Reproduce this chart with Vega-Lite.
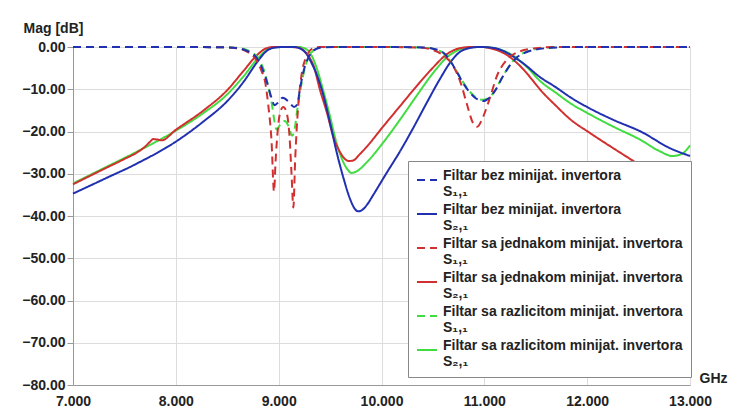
{
  "$schema": "https://vega.github.io/schema/vega-lite/v6.json",
  "width": 617,
  "height": 338,
  "autosize": {"type": "none"},
  "padding": {"left": 73, "top": 47, "right": 43, "bottom": 25},
  "background": "white",
  "config": {"view": {"stroke": null}, "font": "Liberation Sans"},
  "data": {"values": [
    {"s":"g21","f":7.0,"v":-32.3},{"s":"g21","f":7.29,"v":-28.8},{"s":"g21","f":7.62,"v":-24.8},{"s":"g21","f":8.0,"v":-19.8},{"s":"g21","f":8.27,"v":-15.6},{"s":"g21","f":8.5,"v":-11.2},{"s":"g21","f":8.66,"v":-6.9},{"s":"g21","f":8.79,"v":-2.9},{"s":"g21","f":8.88,"v":-0.8},{"s":"g21","f":8.95,"v":-0.1},{"s":"g21","f":9.05,"v":0},{"s":"g21","f":9.2,"v":0},{"s":"g21","f":9.25,"v":-0.3},{"s":"g21","f":9.3,"v":-1.2},{"s":"g21","f":9.37,"v":-5.0},{"s":"g21","f":9.43,"v":-10.0},{"s":"g21","f":9.5,"v":-16.5},{"s":"g21","f":9.56,"v":-22.5},{"s":"g21","f":9.63,"v":-27.3},{"s":"g21","f":9.67,"v":-29.0},{"s":"g21","f":9.71,"v":-29.8},{"s":"g21","f":9.76,"v":-29.4},{"s":"g21","f":9.86,"v":-27.2},{"s":"g21","f":10.02,"v":-22.5},{"s":"g21","f":10.18,"v":-17.2},{"s":"g21","f":10.34,"v":-11.6},{"s":"g21","f":10.5,"v":-6.2},{"s":"g21","f":10.63,"v":-2.6},{"s":"g21","f":10.76,"v":-0.6},{"s":"g21","f":10.88,"v":-0.05},{"s":"g21","f":10.98,"v":0},{"s":"g21","f":11.08,"v":-0.2},{"s":"g21","f":11.2,"v":-1.0},{"s":"g21","f":11.3,"v":-2.4},{"s":"g21","f":11.42,"v":-4.9},{"s":"g21","f":11.54,"v":-8.0},{"s":"g21","f":11.7,"v":-10.9},{"s":"g21","f":11.83,"v":-13.2},{"s":"g21","f":12.03,"v":-16.0},{"s":"g21","f":12.25,"v":-18.8},{"s":"g21","f":12.52,"v":-22.0},{"s":"g21","f":12.7,"v":-24.6},{"s":"g21","f":12.83,"v":-25.8},{"s":"g21","f":12.92,"v":-25.3},{"s":"g21","f":13.0,"v":-23.3},
    {"s":"r21","f":7.0,"v":-32.5},{"s":"r21","f":7.29,"v":-29.0},{"s":"r21","f":7.5,"v":-26.5},{"s":"r21","f":7.62,"v":-25.0},{"s":"r21","f":7.7,"v":-23.6},{"s":"r21","f":7.75,"v":-22.4},{"s":"r21","f":7.78,"v":-21.8},{"s":"r21","f":7.82,"v":-21.9},{"s":"r21","f":7.86,"v":-22.1},{"s":"r21","f":8.0,"v":-19.6},{"s":"r21","f":8.27,"v":-15.0},{"s":"r21","f":8.5,"v":-10.2},{"s":"r21","f":8.66,"v":-5.6},{"s":"r21","f":8.79,"v":-1.9},{"s":"r21","f":8.88,"v":-0.3},{"s":"r21","f":8.95,"v":0},{"s":"r21","f":9.1,"v":0},{"s":"r21","f":9.2,"v":-0.2},{"s":"r21","f":9.25,"v":-1.0},{"s":"r21","f":9.3,"v":-2.5},{"s":"r21","f":9.34,"v":-4.5},{"s":"r21","f":9.4,"v":-10.0},{"s":"r21","f":9.47,"v":-15.6},{"s":"r21","f":9.53,"v":-21.1},{"s":"r21","f":9.6,"v":-25.0},{"s":"r21","f":9.64,"v":-26.4},{"s":"r21","f":9.68,"v":-27.0},{"s":"r21","f":9.73,"v":-26.8},{"s":"r21","f":9.78,"v":-25.6},{"s":"r21","f":9.86,"v":-23.5},{"s":"r21","f":10.02,"v":-18.7},{"s":"r21","f":10.18,"v":-14.0},{"s":"r21","f":10.34,"v":-9.3},{"s":"r21","f":10.5,"v":-4.9},{"s":"r21","f":10.63,"v":-1.8},{"s":"r21","f":10.76,"v":-0.3},{"s":"r21","f":10.88,"v":0},{"s":"r21","f":10.98,"v":0},{"s":"r21","f":11.06,"v":-0.3},{"s":"r21","f":11.14,"v":-0.9},{"s":"r21","f":11.22,"v":-1.9},{"s":"r21","f":11.3,"v":-3.4},{"s":"r21","f":11.38,"v":-5.3},{"s":"r21","f":11.46,"v":-7.6},{"s":"r21","f":11.54,"v":-10.0},{"s":"r21","f":11.7,"v":-14.0},{"s":"r21","f":11.83,"v":-17.0},{"s":"r21","f":12.03,"v":-20.4},{"s":"r21","f":12.25,"v":-23.9},{"s":"r21","f":12.45,"v":-27.0},{"s":"r21","f":12.7,"v":-31.0},{"s":"r21","f":13.0,"v":-35.5},
    {"s":"b21","f":7.0,"v":-34.7},{"s":"b21","f":7.29,"v":-31.4},{"s":"b21","f":7.62,"v":-27.6},{"s":"b21","f":8.0,"v":-22.4},{"s":"b21","f":8.27,"v":-17.6},{"s":"b21","f":8.5,"v":-12.8},{"s":"b21","f":8.66,"v":-8.2},{"s":"b21","f":8.79,"v":-3.6},{"s":"b21","f":8.88,"v":-1.0},{"s":"b21","f":8.95,"v":-0.2},{"s":"b21","f":9.05,"v":0},{"s":"b21","f":9.15,"v":0},{"s":"b21","f":9.22,"v":-0.5},{"s":"b21","f":9.27,"v":-1.6},{"s":"b21","f":9.32,"v":-3.8},{"s":"b21","f":9.37,"v":-6.5},{"s":"b21","f":9.43,"v":-11.0},{"s":"b21","f":9.5,"v":-18.0},{"s":"b21","f":9.56,"v":-24.5},{"s":"b21","f":9.63,"v":-31.0},{"s":"b21","f":9.695,"v":-36.0},{"s":"b21","f":9.74,"v":-38.3},{"s":"b21","f":9.775,"v":-38.9},{"s":"b21","f":9.81,"v":-38.6},{"s":"b21","f":9.86,"v":-37.3},{"s":"b21","f":9.92,"v":-35.0},{"s":"b21","f":10.05,"v":-29.8},{"s":"b21","f":10.18,"v":-24.7},{"s":"b21","f":10.31,"v":-19.1},{"s":"b21","f":10.44,"v":-13.2},{"s":"b21","f":10.57,"v":-7.5},{"s":"b21","f":10.67,"v":-3.6},{"s":"b21","f":10.76,"v":-1.2},{"s":"b21","f":10.85,"v":-0.3},{"s":"b21","f":10.95,"v":0},{"s":"b21","f":11.05,"v":-0.1},{"s":"b21","f":11.15,"v":-0.6},{"s":"b21","f":11.25,"v":-1.8},{"s":"b21","f":11.38,"v":-3.9},{"s":"b21","f":11.54,"v":-7.1},{"s":"b21","f":11.7,"v":-9.6},{"s":"b21","f":11.83,"v":-11.8},{"s":"b21","f":12.03,"v":-14.6},{"s":"b21","f":12.25,"v":-17.2},{"s":"b21","f":12.52,"v":-20.0},{"s":"b21","f":12.81,"v":-24.0},{"s":"b21","f":13.0,"v":-25.8},
    {"s":"g11","f":7.0,"v":0},{"s":"g11","f":8.0,"v":0},{"s":"g11","f":8.5,"v":-0.1},{"s":"g11","f":8.6,"v":-0.2},{"s":"g11","f":8.7,"v":-0.8},{"s":"g11","f":8.8,"v":-2.7},{"s":"g11","f":8.87,"v":-6.5},{"s":"g11","f":8.93,"v":-13.0},{"s":"g11","f":8.98,"v":-19.5},{"s":"g11","f":9.02,"v":-18.2},{"s":"g11","f":9.06,"v":-17.5},{"s":"g11","f":9.1,"v":-19.0},{"s":"g11","f":9.13,"v":-21.0},{"s":"g11","f":9.155,"v":-19.5},{"s":"g11","f":9.18,"v":-15.0},{"s":"g11","f":9.22,"v":-9.0},{"s":"g11","f":9.26,"v":-4.5},{"s":"g11","f":9.3,"v":-2.0},{"s":"g11","f":9.36,"v":-0.5},{"s":"g11","f":9.45,"v":0},{"s":"g11","f":10.0,"v":0},{"s":"g11","f":10.4,"v":-0.1},{"s":"g11","f":10.5,"v":-0.4},{"s":"g11","f":10.6,"v":-1.4},{"s":"g11","f":10.67,"v":-3.4},{"s":"g11","f":10.73,"v":-5.7},{"s":"g11","f":10.79,"v":-8.2},{"s":"g11","f":10.85,"v":-10.3},{"s":"g11","f":10.91,"v":-11.8},{"s":"g11","f":10.98,"v":-12.5},{"s":"g11","f":11.05,"v":-11.9},{"s":"g11","f":11.1,"v":-10.4},{"s":"g11","f":11.18,"v":-6.9},{"s":"g11","f":11.25,"v":-4.2},{"s":"g11","f":11.31,"v":-2.5},{"s":"g11","f":11.4,"v":-1.2},{"s":"g11","f":11.5,"v":-0.5},{"s":"g11","f":11.65,"v":-0.1},{"s":"g11","f":11.8,"v":0},{"s":"g11","f":12.5,"v":0},{"s":"g11","f":13.0,"v":0},
    {"s":"r11","f":7.0,"v":0},{"s":"r11","f":8.0,"v":0},{"s":"r11","f":8.5,"v":-0.1},{"s":"r11","f":8.6,"v":-0.3},{"s":"r11","f":8.7,"v":-1.2},{"s":"r11","f":8.78,"v":-3.0},{"s":"r11","f":8.83,"v":-5.5},{"s":"r11","f":8.87,"v":-8.5},{"s":"r11","f":8.9,"v":-14.0},{"s":"r11","f":8.93,"v":-22.0},{"s":"r11","f":8.955,"v":-34.2},{"s":"r11","f":8.97,"v":-27.0},{"s":"r11","f":8.99,"v":-20.0},{"s":"r11","f":9.01,"v":-16.0},{"s":"r11","f":9.045,"v":-14.2},{"s":"r11","f":9.08,"v":-15.8},{"s":"r11","f":9.105,"v":-21.0},{"s":"r11","f":9.125,"v":-30.0},{"s":"r11","f":9.143,"v":-38.0},{"s":"r11","f":9.16,"v":-27.0},{"s":"r11","f":9.19,"v":-14.0},{"s":"r11","f":9.22,"v":-7.0},{"s":"r11","f":9.27,"v":-2.2},{"s":"r11","f":9.32,"v":-0.5},{"s":"r11","f":9.4,"v":0},{"s":"r11","f":10.0,"v":0},{"s":"r11","f":10.35,"v":-0.1},{"s":"r11","f":10.47,"v":-0.5},{"s":"r11","f":10.6,"v":-2.0},{"s":"r11","f":10.7,"v":-4.6},{"s":"r11","f":10.77,"v":-8.5},{"s":"r11","f":10.83,"v":-13.5},{"s":"r11","f":10.89,"v":-18.0},{"s":"r11","f":10.93,"v":-18.9},{"s":"r11","f":10.99,"v":-16.4},{"s":"r11","f":11.06,"v":-11.6},{"s":"r11","f":11.12,"v":-7.0},{"s":"r11","f":11.22,"v":-3.0},{"s":"r11","f":11.35,"v":-1.0},{"s":"r11","f":11.5,"v":-0.3},{"s":"r11","f":11.7,"v":0},{"s":"r11","f":12.5,"v":0},{"s":"r11","f":13.0,"v":0},
    {"s":"b11","f":7.0,"v":0},{"s":"b11","f":8.0,"v":0},{"s":"b11","f":8.5,"v":-0.1},{"s":"b11","f":8.6,"v":-0.3},{"s":"b11","f":8.7,"v":-1.0},{"s":"b11","f":8.8,"v":-3.0},{"s":"b11","f":8.88,"v":-7.8},{"s":"b11","f":8.93,"v":-12.0},{"s":"b11","f":8.96,"v":-13.8},{"s":"b11","f":9.0,"v":-13.0},{"s":"b11","f":9.04,"v":-12.0},{"s":"b11","f":9.1,"v":-13.0},{"s":"b11","f":9.15,"v":-14.2},{"s":"b11","f":9.18,"v":-13.6},{"s":"b11","f":9.21,"v":-9.5},{"s":"b11","f":9.25,"v":-5.0},{"s":"b11","f":9.29,"v":-2.5},{"s":"b11","f":9.34,"v":-0.8},{"s":"b11","f":9.42,"v":-0.1},{"s":"b11","f":9.55,"v":0},{"s":"b11","f":10.0,"v":0},{"s":"b11","f":10.4,"v":-0.1},{"s":"b11","f":10.5,"v":-0.4},{"s":"b11","f":10.6,"v":-1.3},{"s":"b11","f":10.67,"v":-3.3},{"s":"b11","f":10.73,"v":-5.8},{"s":"b11","f":10.79,"v":-8.4},{"s":"b11","f":10.85,"v":-10.5},{"s":"b11","f":10.91,"v":-12.0},{"s":"b11","f":10.99,"v":-12.8},{"s":"b11","f":11.05,"v":-12.0},{"s":"b11","f":11.1,"v":-10.5},{"s":"b11","f":11.18,"v":-7.0},{"s":"b11","f":11.25,"v":-4.3},{"s":"b11","f":11.31,"v":-2.6},{"s":"b11","f":11.4,"v":-1.3},{"s":"b11","f":11.5,"v":-0.6},{"s":"b11","f":11.65,"v":-0.2},{"s":"b11","f":11.8,"v":0},{"s":"b11","f":12.5,"v":0},{"s":"b11","f":13.0,"v":0}
  ]},
  "mark": {"type": "line", "strokeWidth": 2, "interpolate": "monotone"},
  "encoding": {
    "x": {
      "field": "f", "type": "quantitative",
      "scale": {"domain": [7, 13], "nice": false, "zero": false},
      "axis": {
        "values": [7, 8, 9, 10, 11, 12, 13], "format": ".3f", "labelFlush": false,
        "title": "GHz", "titleX": 640, "titleY": -7, "titleAlign": "center", "titleBaseline": "middle",
        "titleFont": "Liberation Sans", "titleFontSize": 14, "titleFontWeight": "bold", "titleColor": "#222",
        "labelFont": "Liberation Sans", "labelFontSize": 14, "labelFontWeight": "bold", "labelColor": "#222",
        "labelPadding": 9, "tickSize": 0, "domainColor": "#999", "gridColor": "#dcdcdc", "grid": true
      }
    },
    "y": {
      "field": "v", "type": "quantitative",
      "scale": {"domain": [-80, 0], "nice": false, "zero": false},
      "axis": {
        "values": [-80, -70, -60, -50, -40, -30, -20, -10, 0], "format": ".2f",
        "title": "Mag [dB]", "titleAngle": 0, "titleX": -20, "titleY": -19, "titleAlign": "center", "titleBaseline": "middle",
        "titleFont": "Liberation Sans", "titleFontSize": 14, "titleFontWeight": "bold", "titleColor": "#222",
        "labelFont": "Liberation Sans", "labelFontSize": 14, "labelFontWeight": "bold", "labelColor": "#222",
        "labelPadding": 2, "tickSize": 6, "tickColor": "#999", "domainColor": "#999", "gridColor": "#dcdcdc", "grid": true
      }
    },
    "color": {
      "field": "s", "type": "nominal",
      "scale": {"domain": ["b11", "b21", "r11", "r21", "g11", "g21"], "range": ["#2030b0", "#2030b0", "#d03030", "#d03030", "#40dc40", "#40dc40"]},
      "legend": {
        "title": null, "orient": "none", "legendX": 335, "legendY": 114,
        "symbolType": "stroke", "symbolSize": 400, "symbolStrokeWidth": 2,
        "labelExpr": "datum.label=='b11'?['Filtar bez minijat. invertora','S₁,₁']:datum.label=='b21'?['Filtar bez minijat. invertora','S₂,₁']:datum.label=='r11'?['Filtar sa jednakom minijat. invertora','S₁,₁']:datum.label=='r21'?['Filtar sa jednakom minijat. invertora','S₂,₁']:datum.label=='g11'?['Filtar sa razlicitom minijat. invertora','S₁,₁']:['Filtar sa razlicitom minijat. invertora','S₂,₁']",
        "labelFont": "Liberation Sans", "labelFontSize": 14, "labelFontWeight": "bold", "labelColor": "#222",
        "labelBaseline": "alphabetic", "labelOffset": 5, "labelLimit": 400,
        "fillColor": "white", "strokeColor": "#888", "padding": 8, "rowPadding": 4
      }
    },
    "strokeDash": {
      "field": "s", "type": "nominal",
      "scale": {"domain": ["b11", "b21", "r11", "r21", "g11", "g21"], "range": [[8, 5], [1, 0], [8, 5], [1, 0], [8, 5], [1, 0]]},
      "legend": {
        "title": null, "orient": "none", "legendX": 335, "legendY": 114,
        "symbolType": "stroke", "symbolSize": 400, "symbolStrokeWidth": 2,
        "labelExpr": "datum.label=='b11'?['Filtar bez minijat. invertora','S₁,₁']:datum.label=='b21'?['Filtar bez minijat. invertora','S₂,₁']:datum.label=='r11'?['Filtar sa jednakom minijat. invertora','S₁,₁']:datum.label=='r21'?['Filtar sa jednakom minijat. invertora','S₂,₁']:datum.label=='g11'?['Filtar sa razlicitom minijat. invertora','S₁,₁']:['Filtar sa razlicitom minijat. invertora','S₂,₁']",
        "labelFont": "Liberation Sans", "labelFontSize": 14, "labelFontWeight": "bold", "labelColor": "#222",
        "labelBaseline": "alphabetic", "labelOffset": 5, "labelLimit": 400,
        "fillColor": "white", "strokeColor": "#888", "padding": 8, "rowPadding": 4
      }
    }
  }
}
